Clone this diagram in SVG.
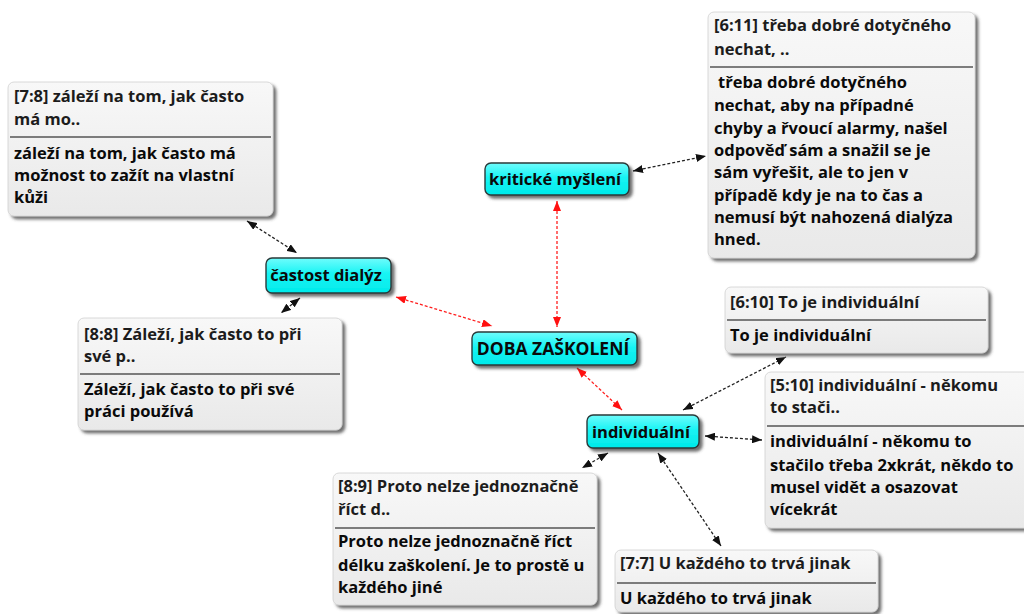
<svg xmlns="http://www.w3.org/2000/svg" width="1024" height="614" viewBox="0 0 1024 614">
  <defs>
    <linearGradient id="noteFill" x1="0" y1="0" x2="0" y2="1">
      <stop offset="0" stop-color="#f8f8f8"/>
      <stop offset="1" stop-color="#e9e9e9"/>
    </linearGradient>
    <linearGradient id="codeFill" x1="0" y1="0" x2="0" y2="1">
      <stop offset="0" stop-color="#6ffcfc"/>
      <stop offset="0.45" stop-color="#18f4f4"/>
      <stop offset="1" stop-color="#00eaea"/>
    </linearGradient>
    <filter id="shadow" x="-10%" y="-10%" width="125%" height="130%">
      <feDropShadow dx="3" dy="3" stdDeviation="1.6" flood-color="#404040" flood-opacity="0.75"/>
    </filter>
    <marker id="arrowBlack" viewBox="0 0 10 8" refX="10" refY="4" markerWidth="10" markerHeight="8" markerUnits="userSpaceOnUse" orient="auto-start-reverse">
      <path d="M0,0 L10,4 L0,8 z" fill="#111"/>
    </marker>
    <marker id="arrowRed" viewBox="0 0 10 8" refX="10" refY="4" markerWidth="10" markerHeight="8" markerUnits="userSpaceOnUse" orient="auto-start-reverse">
      <path d="M0,0 L10,4 L0,8 z" fill="#ff1010"/>
    </marker>
  </defs>
  <style>
    text { font-family: "Open Sans", "Noto Sans", "DejaVu Sans", sans-serif; font-weight: bold; font-size: 16.5px; fill: #0a0a0a; }
    .head { fill: #1c1c1c; }
    .code text { font-size: 16.5px; text-anchor: middle; }
    .code .big { font-size: 17.5px; }
    .note rect { fill: url(#noteFill); stroke: #d0d0d0; stroke-width: 0.8; filter: url(#shadow); }
    .code rect { fill: url(#codeFill); stroke: #2a3a3a; stroke-width: 1.4; filter: url(#shadow); }
    .rule { stroke: #555; stroke-width: 1.6; }
    .link { fill: none; stroke-width: 1.3; stroke-dasharray: 3 2; }
    .black { stroke: #222; marker-start: url(#arrowBlack); marker-end: url(#arrowBlack); }
    .red { stroke: #ff2020; marker-start: url(#arrowRed); marker-end: url(#arrowRed); }
  </style>

  <!-- connectors -->
  <g id="connectors">
    <line class="link black" x1="247" y1="221" x2="297" y2="253"/>
    <line class="link black" x1="300" y1="298" x2="281" y2="313"/>
    <line class="link red" x1="396" y1="297" x2="492" y2="326"/>
    <line class="link red" x1="557" y1="201" x2="557" y2="327"/>
    <line class="link black" x1="633" y1="171" x2="706" y2="156"/>
    <line class="link red" x1="577" y1="368" x2="622" y2="410"/>
    <line class="link black" x1="683" y1="410" x2="786" y2="357"/>
    <line class="link black" x1="705" y1="436" x2="762" y2="440"/>
    <line class="link black" x1="608" y1="453" x2="582" y2="468"/>
    <line class="link black" x1="658" y1="453" x2="721" y2="546"/>
  </g>

  <!-- quotation [7:8] -->
  <g id="q7-8" class="note">
    <rect x="8" y="82" width="265" height="134" rx="6"/>
    <text class="head" x="14" y="102">[7:8] záleží na tom, jak často</text>
    <text class="head" x="14" y="125">má mo..</text>
    <line class="rule" x1="10" y1="137" x2="271" y2="137"/>
    <text x="14" y="159">záleží na tom, jak často má</text>
    <text x="14" y="181">možnost to zažít na vlastní</text>
    <text x="14" y="203">kůži</text>
  </g>

  <!-- quotation [6:11] -->
  <g id="q6-11" class="note">
    <rect x="708" y="12" width="267" height="246" rx="6"/>
    <text class="head" x="714" y="31">[6:11] třeba dobré dotyčného</text>
    <text class="head" x="714" y="55">nechat, ..</text>
    <line class="rule" x1="710" y1="67" x2="973" y2="67"/>
    <text x="718" y="88">třeba dobré dotyčného</text>
    <text x="714" y="111">nechat, aby na případné</text>
    <text x="714" y="134">chyby a řvoucí alarmy, našel</text>
    <text x="714" y="156">odpověď sám a snažil se je</text>
    <text x="714" y="178">sám vyřešit, ale to jen v</text>
    <text x="714" y="201">případě kdy je na to čas a</text>
    <text x="714" y="223">nemusí být nahozená dialýza</text>
    <text x="714" y="245">hned.</text>
  </g>

  <!-- quotation [8:8] -->
  <g id="q8-8" class="note">
    <rect x="78" y="318" width="264" height="112" rx="6"/>
    <text class="head" x="84" y="340">[8:8] Záleží, jak často to při</text>
    <text class="head" x="84" y="362">své p..</text>
    <line class="rule" x1="80" y1="374" x2="340" y2="374"/>
    <text x="84" y="395">Záleží, jak často to při své</text>
    <text x="84" y="417">práci používá</text>
  </g>

  <!-- quotation [6:10] -->
  <g id="q6-10" class="note">
    <rect x="725" y="287" width="263" height="66" rx="6"/>
    <text class="head" x="730" y="308">[6:10] To je individuální</text>
    <line class="rule" x1="727" y1="320" x2="986" y2="320"/>
    <text x="730" y="341">To je individuální</text>
  </g>

  <!-- quotation [5:10] -->
  <g id="q5-10" class="note">
    <rect x="765" y="372" width="272" height="156" rx="6"/>
    <text class="head" x="770" y="391">[5:10] individuální - někomu</text>
    <text class="head" x="770" y="413">to stači..</text>
    <line class="rule" x1="767" y1="426" x2="1030" y2="426"/>
    <text x="770" y="447">individuální - někomu to</text>
    <text x="770" y="471">stačilo třeba 2xkrát, někdo to</text>
    <text x="770" y="493">musel vidět a osazovat</text>
    <text x="770" y="515">vícekrát</text>
  </g>

  <!-- quotation [8:9] -->
  <g id="q8-9" class="note">
    <rect x="333" y="473" width="264" height="132" rx="6"/>
    <text class="head" x="338" y="492">[8:9] Proto nelze jednoznačně</text>
    <text class="head" x="338" y="515">říct d..</text>
    <line class="rule" x1="335" y1="528" x2="595" y2="528"/>
    <text x="338" y="547">Proto nelze jednoznačně říct</text>
    <text x="338" y="571">délku zaškolení. Je to prostě u</text>
    <text x="338" y="593">každého jiné</text>
  </g>

  <!-- quotation [7:7] -->
  <g id="q7-7" class="note">
    <rect x="615" y="550" width="263" height="62" rx="6"/>
    <text class="head" x="620" y="569">[7:7] U každého to trvá jinak</text>
    <line class="rule" x1="617" y1="583" x2="876" y2="583"/>
    <text x="620" y="604">U každého to trvá jinak</text>
  </g>

  <!-- codes -->
  <g id="kriticke-mysleni" class="code">
    <rect x="485" y="163" width="144" height="32" rx="6"/>
    <text x="555" y="185">kritické myšlení</text>
  </g>
  <g id="castost-dialyz" class="code">
    <rect x="266" y="258" width="125" height="35" rx="6"/>
    <text x="326" y="281">častost dialýz</text>
  </g>
  <g id="doba-zaskoleni" class="code">
    <rect x="472" y="332" width="165" height="33" rx="6"/>
    <text class="big" x="553" y="355">DOBA ZAŠKOLENÍ</text>
  </g>
  <g id="individualni" class="code">
    <rect x="587" y="415" width="112" height="33" rx="6"/>
    <text x="641" y="438">individuální</text>
  </g>
</svg>
